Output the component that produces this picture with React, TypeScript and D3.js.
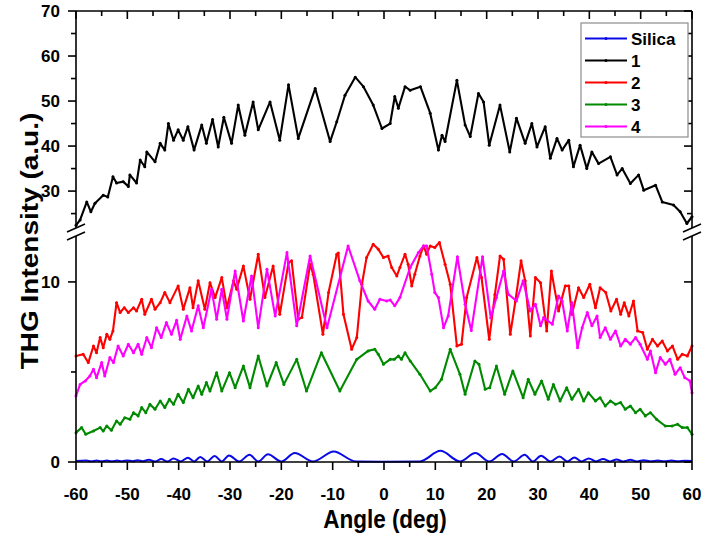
import * as d3 from 'd3'
import React from 'react'

type Pt = [number, number]

// Silica reference (lower panel)
const silica: Pt[] = [
  [-60, 0.05], [-58, 0.08], [-57, 0.04], [-56, 0.08], [-55, 0.04], [-54, 0.08], [-53, 0.04], [-52, 0.08],
  [-51, 0.04], [-50, 0.09], [-49, 0.04], [-48, 0.1], [-47, 0.04], [-45.8, 0.13], [-44.6, 0.03], [-43.4, 0.16],
  [-42.2, 0.03], [-41, 0.2], [-39.6, 0.03], [-38.2, 0.24], [-37, 0.03], [-35.8, 0.28], [-34.4, 0.03], [-33, 0.34],
  [-31.6, 0.03], [-30.2, 0.36], [-28.2, 0.03], [-26.2, 0.4], [-24.5, 0.03], [-22.6, 0.43], [-20, 0.03],
  [-17.4, 0.5], [-13.8, 0.03], [-9.8, 0.58], [-5.5, 0.03], [0, 0.02], [7, 0.03], [11, 0.62], [14.8, 0.03],
  [17.8, 0.5], [20.5, 0.03], [23, 0.45], [25.3, 0.03], [27.4, 0.4], [29, 0.03], [30.6, 0.35], [32.4, 0.03],
  [34.2, 0.3], [35.7, 0.03], [37.1, 0.25], [38.5, 0.03], [39.9, 0.2], [41.3, 0.03], [42.7, 0.17], [44, 0.03],
  [45.3, 0.14], [46.6, 0.03], [48, 0.12], [49.3, 0.03], [50.6, 0.1], [52, 0.04], [53.3, 0.08], [54.6, 0.04],
  [56, 0.08], [57.3, 0.04], [58.6, 0.07], [60, 0.05]
]

// sample 1 (upper panel, above the break)
const sample1: Pt[] = [
  [-60, 22.4], [-59.2, 23.6], [-57.9, 27.6], [-57.1, 25.4], [-56.3, 27.3], [-54.7, 29.1], [-53.8, 28.7],
  [-52.8, 33.2], [-52.1, 31.8], [-50.8, 32.1], [-49.8, 31], [-49.5, 33.6], [-48.2, 31.8], [-47.5, 36.9],
  [-46.6, 35.4], [-46.2, 38.7], [-44.6, 36.5], [-43.6, 40.6], [-42.7, 39.1], [-42, 45], [-41, 41.3],
  [-40.1, 43.6], [-39.1, 41.3], [-38.2, 44.3], [-37, 39.1], [-35.5, 44.7], [-34.6, 40.6], [-33.4, 45.9],
  [-32.3, 39.8], [-31.2, 46.4], [-29.7, 40.6], [-28.4, 49.1], [-27.1, 42.4], [-25.5, 49.8], [-24.5, 43.6],
  [-22.2, 49.8], [-20.3, 41.3], [-18.6, 53.6], [-16.7, 41.7], [-13.4, 52.8], [-10.5, 41], [-9.2, 45.4],
  [-7.6, 51.3], [-5.6, 55.3], [-4, 53.2], [-2.1, 49.1], [-0.4, 43.9], [1.2, 45], [2.1, 51], [2.8, 48.4],
  [4.1, 53.2], [5.1, 52.4], [7.1, 53.2], [9, 47.3], [10.6, 39.1], [11.3, 42.4], [11.9, 41], [14.2, 54.6],
  [15.8, 44.7], [16.8, 42.1], [18.4, 51.7], [19.4, 49.8], [20.5, 40.2], [22.6, 49.1], [24.5, 38.7],
  [25.8, 46.2], [27.5, 40.6], [28.8, 45], [29.8, 39.8], [31.4, 44.3], [32.4, 37.3], [33.7, 41.7],
  [34.7, 39.1], [36, 41.3], [36.9, 35.4], [38.2, 40.2], [39.5, 35], [40.5, 38.7], [41.8, 36.1], [44.1, 37.6],
  [45.4, 33.6], [46.4, 35], [48, 31.7], [49.6, 33.6], [50.6, 30.2], [52.9, 31.3], [54.2, 27.6], [56.4, 26.9],
  [57.7, 25.4], [59, 22.8], [60, 24.3]
]

const sample2: Pt[] = [
  [-60, 5.89], [-58.6, 5.98], [-57.6, 5.52], [-56.6, 6.44], [-56, 6.07], [-55.3, 6.91], [-54.7, 6.35],
  [-54, 7.09], [-53.4, 6.81], [-52.8, 7.28], [-52.1, 8.85], [-51.4, 8.3], [-50.6, 8.57], [-49.8, 8.3],
  [-48.8, 8.57], [-48.2, 8.39], [-47.2, 9.04], [-46.6, 8.2], [-45.3, 9.04], [-44.6, 8.48], [-43.6, 8.85],
  [-42.7, 9.41], [-41.7, 8.85], [-40.1, 9.78], [-39.1, 8.48], [-37.8, 9.68], [-37.2, 8.57], [-36.2, 10.06],
  [-34.9, 8.48], [-33.9, 9.96], [-32.9, 9.13], [-31.6, 10.24], [-30.6, 8.57], [-29.3, 10.06], [-28.7, 9.59],
  [-27.4, 10.89], [-26.1, 9.04], [-24.5, 11.54], [-23.2, 9.13], [-21.6, 10.89], [-20.3, 8.2], [-18.6, 11.07],
  [-18, 11.17], [-16.7, 7.93], [-16, 8.02], [-14.4, 10.98], [-13.8, 10.43], [-11.9, 7.09], [-10.8, 9.41],
  [-9.2, 11.54], [-8.9, 11.6], [-7.9, 8.2], [-6.3, 6.26], [-5.3, 6.91], [-4.3, 9.87], [-3.4, 11.35],
  [-2.1, 12.09], [-1.1, 11.81], [-0.1, 11.35], [0.8, 11.44], [1.5, 10.8], [2.5, 10.33], [3.1, 10.8],
  [4.1, 11.54], [4.7, 10.98], [5.4, 9.78], [6, 10.43], [7, 11.44], [7.7, 12], [8.3, 11.54], [9, 12],
  [9.9, 11.91], [10.8, 12.19], [11.9, 10.98], [12.9, 9.87], [14.2, 6.44], [15.1, 6.54], [16.1, 9.13],
  [18.1, 11.35], [19, 10.24], [20.5, 6.81], [21.6, 9.3], [22.6, 11.44], [23.3, 11.26], [24.6, 7.09],
  [25.6, 8.94], [26.7, 11.17], [27.5, 10.06], [28.5, 7], [29.5, 10.24], [30.5, 9.96], [31.7, 7.28],
  [32.6, 10.61], [34, 8.39], [35.3, 9.78], [36, 9.78], [36.6, 8.2], [37.9, 9.68], [38.9, 9.13], [40.1, 9.87],
  [41.2, 8.57], [42.1, 9.68], [43.2, 9.41], [44.2, 8.39], [45.3, 9.04], [46.1, 8.2], [46.8, 8.85],
  [47.7, 8.11], [48.6, 8.94], [49.4, 7.28], [50.4, 7.19], [51.3, 6.26], [52.3, 6.81], [53.3, 6.44],
  [54.2, 6.72], [55.2, 6.17], [56.2, 6.44], [57.2, 5.7], [58.1, 5.98], [59.1, 5.89], [60, 6.44]
]

const sample3: Pt[] = [
  [-60, 1.63], [-58.9, 1.91], [-58.1, 1.54], [-56.6, 1.72], [-55.3, 1.91], [-54.7, 1.72], [-54, 2],
  [-53.1, 1.76], [-52.1, 2.28], [-51.4, 2.09], [-50.5, 2.46], [-49.5, 2.37], [-48.8, 2.74], [-47.9, 2.56],
  [-47.2, 3.02], [-46.4, 2.74], [-45.6, 3.2], [-44.6, 2.93], [-43.6, 3.39], [-42.7, 3.02], [-41.8, 3.48],
  [-41, 3.2], [-40.1, 3.76], [-39.1, 3.3], [-38.1, 4.04], [-37.2, 3.57], [-36.2, 4.22], [-35.5, 3.76],
  [-34.6, 4.41], [-33.9, 3.94], [-32.6, 4.96], [-31.6, 3.94], [-30.1, 4.96], [-29, 4.13], [-27.4, 5.33],
  [-26.1, 4.13], [-24.5, 5.89], [-22.8, 4.22], [-21, 5.52], [-19.5, 4.31], [-17, 5.7], [-15.1, 3.94],
  [-12.2, 6.07], [-8.6, 3.94], [-5.3, 5.7], [-3.1, 6.17], [-1.8, 6.26], [-1.1, 5.98], [-0.1, 5.43],
  [1.2, 5.7], [2, 5.7], [2.8, 5.89], [3.4, 5.7], [4.1, 6.07], [5.1, 5.61], [7, 4.87], [9, 3.94], [10, 4.13],
  [11.2, 4.59], [12.9, 6.26], [14.8, 4.87], [15.8, 3.76], [17.7, 5.61], [18.5, 5.43], [19.7, 4.04],
  [20.6, 4.13], [21.9, 5.33], [23.5, 3.76], [25.1, 5.06], [27.1, 3.57], [28.1, 4.59], [29.4, 3.76],
  [30.7, 4.5], [32, 3.48], [33, 4.31], [34.3, 3.39], [35.6, 4.13], [36.6, 3.48], [37.9, 4.04], [38.9, 3.39],
  [39.8, 3.85], [41.2, 3.39], [42.1, 3.57], [43.1, 3.11], [44.1, 3.39], [45.1, 3.2], [46.1, 3.3], [47, 2.93],
  [48, 3.11], [49, 2.74], [49.9, 2.93], [50.9, 2.56], [51.9, 2.74], [53.1, 2.37], [54.8, 2], [56.1, 2],
  [57.2, 2.09], [58.1, 1.91], [59.1, 1.91], [60, 1.54]
]

const sample4: Pt[] = [
  [-60, 3.67], [-59.2, 4.31], [-58.2, 4.5], [-57.3, 4.78], [-56.6, 5.15], [-56, 4.68], [-55, 5.52],
  [-54.4, 4.78], [-53.4, 5.8], [-52.7, 5.52], [-51.8, 6.44], [-50.8, 5.89], [-49.8, 6.54], [-48.8, 6.07],
  [-47.9, 6.54], [-47.2, 5.98], [-46.2, 6.91], [-45.3, 6.35], [-44.3, 7.46], [-43.4, 6.91], [-42.4, 7.74],
  [-41.4, 7.09], [-40.4, 7.87], [-39.7, 6.81], [-38.4, 8.11], [-37.5, 7.28], [-36.2, 8.67], [-35.2, 7.46],
  [-33.6, 9.59], [-32.6, 7.93], [-31.6, 9.59], [-30.6, 7.93], [-29, 10.61], [-27.4, 7.83], [-25.8, 10.33],
  [-24.5, 7.46], [-22.8, 10.7], [-21.2, 8.11], [-18.9, 11.63], [-17, 7.56], [-14.4, 11.44], [-11.1, 7.46],
  [-7, 12], [-4.7, 10.06], [-3.1, 8.94], [-1.8, 8.48], [-0.8, 9.04], [0.5, 8.94], [1.2, 9], [2.1, 8.67],
  [3.1, 9.13], [5.1, 10.8], [6.7, 11.63], [7.7, 12], [8.3, 12], [9.3, 10.43], [9.9, 9.41], [10.6, 9.13],
  [11.6, 7.46], [12.5, 8.11], [14.3, 11.4], [15.8, 8.76], [17, 7.3], [19.2, 11.4], [20.8, 8.0],
  [21.9, 9.13], [23.3, 10.61], [24.2, 9.32], [25.8, 8.94], [27.1, 10.06], [28.5, 8.39], [29.5, 8.76],
  [30.5, 7.56], [31.1, 8.02], [32.8, 7.65], [34, 9.22], [34.7, 8.94], [35.7, 7.28], [36.6, 8.85],
  [37.7, 6.35], [38.6, 7.46], [39.6, 8.3], [40.5, 7.56], [41.5, 8.11], [42.1, 6.91], [43.1, 7.46],
  [44.1, 6.81], [45.1, 7.28], [46.1, 6.44], [47, 6.81], [48, 6.54], [49, 6.91], [49.9, 6.54], [51.3, 5.7],
  [51.9, 6.17], [52.9, 4.96], [53.8, 5.8], [54.8, 5.43], [55.7, 5.7], [56.7, 4.87], [57.7, 5.24],
  [58.6, 4.68], [59.6, 4.5], [60, 3.85]
]

const legendNames = ['Silica', '1', '2', '3', '4']
const colors = ['#0a0ae6', '#000000', '#ff0000', '#008a00', '#ff00ff']
const xTickVals = d3.range(-60, 61, 5)
const upperTickVals = d3.range(25, 71, 5)
const lowerTickVals = [0, 5, 10]

const font = '"Liberation Sans", Arial, sans-serif'

export default function App() {
  const xL = 76, xR = 692, yTop = 11, yBot = 462
  const brkHi = 228, brkLo = 236
  const xScale = d3.scaleLinear().domain([-60, 60]).range([xL, xR])
  const yUp = d3.scaleLinear().domain([21.8, 70]).range([brkHi, yTop])
  const yLow = d3.scaleLinear().domain([0, 12.55]).range([yBot, brkLo])

  const lineUp = d3.line<Pt>().x(d => xScale(d[0])).y(d => yUp(d[1]))
  const lineLow = d3.line<Pt>().x(d => xScale(d[0])).y(d => yLow(d[1]))
  const lineSmooth = d3.line<Pt>().curve(d3.curveMonotoneX).x(d => xScale(d[0])).y(d => yLow(d[1]))

  const lowSeries = [
    { data: sample2, color: colors[2] },
    { data: sample3, color: colors[3] },
    { data: sample4, color: colors[4] },
  ]

  const breakMark = (x: number) => (
    <g>
      <rect x={x - 3} y={brkHi + 1} width={6} height={brkLo - brkHi - 2} fill="#fff" />
      <line x1={x - 9} y1={brkHi + 4} x2={x + 9} y2={brkHi - 4} stroke="#000" strokeWidth={1.6} />
      <line x1={x - 9} y1={brkLo + 4} x2={x + 9} y2={brkLo - 4} stroke="#000" strokeWidth={1.6} />
    </g>
  )

  return (
    <svg width={705} height={537} style={{ position: 'absolute', left: 0, top: 0, background: '#fff' }} fontFamily={font}>
      {/* series */}
      <path d={lineSmooth(silica) || ''} fill="none" stroke={colors[0]} strokeWidth={2} />
      <path d={lineUp(sample1) || ''} fill="none" stroke={colors[1]} strokeWidth={2.1} strokeLinejoin="round" />
      {sample1.map((p, i) => <circle key={'b' + i} cx={xScale(p[0])} cy={yUp(p[1])} r={1.5} fill={colors[1]} />)}
      {lowSeries.map((s, k) => (
        <g key={k}>
          <path d={lineLow(s.data) || ''} fill="none" stroke={s.color} strokeWidth={2.1} strokeLinejoin="round" />
          {s.data.map((p, i) => <circle key={i} cx={xScale(p[0])} cy={yLow(p[1])} r={1.5} fill={s.color} />)}
        </g>
      ))}

      {/* frame */}
      <line x1={xL} y1={yTop} x2={xR} y2={yTop} stroke="#000" strokeWidth={1.6} />
      <line x1={xL} y1={yBot} x2={xR} y2={yBot} stroke="#000" strokeWidth={1.6} />
      <line x1={xL} y1={yTop} x2={xL} y2={brkHi} stroke="#000" strokeWidth={1.6} />
      <line x1={xL} y1={brkLo} x2={xL} y2={yBot} stroke="#000" strokeWidth={1.6} />
      <line x1={xR} y1={yTop} x2={xR} y2={brkHi} stroke="#000" strokeWidth={1.6} />
      <line x1={xR} y1={brkLo} x2={xR} y2={yBot} stroke="#000" strokeWidth={1.6} />
      {breakMark(xL)}
      {breakMark(xR)}

      {/* x ticks bottom (out) and top (in) */}
      {xTickVals.map(v => {
        const major = v % 10 === 0
        const px = xScale(v)
        return (
          <g key={'x' + v}>
            <line x1={px} y1={yBot} x2={px} y2={yBot + (major ? 8 : 5)} stroke="#000" strokeWidth={1.6} />
            <line x1={px} y1={yTop} x2={px} y2={yTop + (major ? 8 : 5)} stroke="#000" strokeWidth={1.6} />
            {major && (
              <text x={px} y={500} textAnchor="middle" fontSize={17} fontWeight="bold">{v}</text>
            )}
          </g>
        )
      })}

      {/* y ticks upper */}
      {upperTickVals.map(v => {
        const major = v % 10 === 0
        const py = yUp(v)
        return (
          <g key={'u' + v}>
            <line x1={xL} y1={py} x2={xL - (major ? 8 : 5)} y2={py} stroke="#000" strokeWidth={1.6} />
            <line x1={xR} y1={py} x2={xR - (major ? 8 : 5)} y2={py} stroke="#000" strokeWidth={1.6} />
            {major && (
              <text x={60} y={py + 6} textAnchor="end" fontSize={17} fontWeight="bold">{v}</text>
            )}
          </g>
        )
      })}
      {lowerTickVals.map(v => {
        const major = v % 10 === 0
        const py = yLow(v)
        return (
          <g key={'l' + v}>
            <line x1={xL} y1={py} x2={xL - (major ? 8 : 5)} y2={py} stroke="#000" strokeWidth={1.6} />
            <line x1={xR} y1={py} x2={xR - (major ? 8 : 5)} y2={py} stroke="#000" strokeWidth={1.6} />
            {major && (
              <text x={60} y={py + 6} textAnchor="end" fontSize={17} fontWeight="bold">{v}</text>
            )}
          </g>
        )
      })}

      {/* axis titles */}
      <text transform="translate(38,241) scale(0.88,1) rotate(-90)" textAnchor="middle" fontSize={28} fontWeight="bold">
        THG Intensity (a.u.)
      </text>
      <text transform="translate(385,528) scale(0.9,1)" textAnchor="middle" fontSize={25} fontWeight="bold">
        Angle (deg)
      </text>

      {/* legend */}
      <rect x={581} y={23} width={107} height={114} fill="#fff" stroke="#8c8c8c" strokeWidth={1.2} />
      {legendNames.map((name, i) => {
        const ly = 38.5 + i * 22
        return (
          <g key={name}>
            <line x1={585} y1={ly} x2={627} y2={ly} stroke={colors[i]} strokeWidth={2} />
            <circle cx={606} cy={ly} r={1.5} fill={colors[i]} />
            <text x={631} y={ly + 6} fontSize={17} fontWeight="bold">{name}</text>
          </g>
        )
      })}
    </svg>
  )
}
